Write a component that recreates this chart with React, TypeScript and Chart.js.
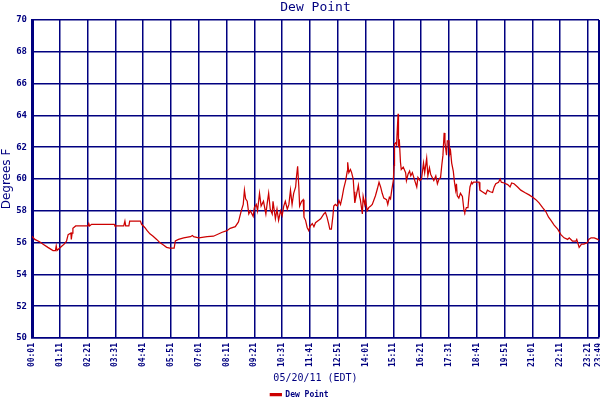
import React, { useEffect, useRef } from 'react';
import { Chart, registerables } from 'chart.js';

Chart.register(...registerables);

// tick labels on the time axis (every 70 minutes, plus the last reading)
const tickLabels = [
  '00:01', '01:11', '02:21', '03:31', '04:41', '05:51', '07:01', '08:11',
  '09:21', '10:31', '11:41', '12:51', '14:01', '15:11', '16:21', '17:31',
  '18:41', '19:51', '21:01', '22:11', '23:21', '23:49',
];

// time of reading, minutes after midnight
const minutes = [
  1, 8, 20, 29, 41, 54, 60, 62, 64, 75, 82, 88, 92, 99, 100, 102, 104, 111,
  142, 144, 146, 151, 208, 210, 232, 235, 237, 245, 247, 274, 277, 285, 291,
  298, 306, 315, 323, 332, 340, 348, 359, 362, 370, 383, 400, 405, 408, 421,
  442, 458, 480, 492, 500, 513, 521, 524, 528, 533, 536, 539, 543, 547, 551,
  558, 561, 566, 569, 574, 578, 584, 590, 593, 597, 601, 606, 608, 614, 618,
  622, 627, 631, 635, 639, 644, 648, 652, 656, 660, 665, 667, 670, 673, 675,
  680, 684, 686, 690, 694, 698, 702, 707, 711, 715, 723, 728, 736, 740, 744,
  748, 751, 755, 759, 761, 765, 770, 774, 778, 782, 786, 791, 795, 796, 799,
  803, 806, 810, 812, 814, 818, 823, 826, 828, 833, 835, 839, 841, 845, 849,
  854, 858, 866, 871, 875, 879, 883, 887, 894, 897, 901, 904, 907, 909, 911,
  913, 914, 918, 919, 923, 924, 926, 929, 931, 936, 942, 944, 948, 952, 955,
  959, 965, 970, 973, 978, 982, 987, 990, 995, 998, 1002, 1005, 1009, 1013,
  1018, 1022, 1026, 1030, 1033, 1036, 1039, 1041, 1045, 1047, 1051, 1053,
  1055, 1058, 1062, 1065, 1068, 1070, 1072, 1076, 1080, 1085, 1089, 1091,
  1095, 1099, 1101, 1104, 1108, 1110, 1113, 1127, 1129, 1135, 1144, 1148,
  1155, 1161, 1165, 1169, 1176, 1180, 1183, 1190, 1199, 1205, 1209, 1215,
  1224, 1232, 1242, 1253, 1262, 1270, 1278, 1287, 1295, 1302, 1308, 1316,
  1325, 1333, 1341, 1350, 1354, 1362, 1371, 1373, 1379, 1385, 1391, 1400,
  1403, 1409, 1417, 1426, 1429,
];

// dew point, degrees F
const dewPoint = [
  56.4, 56.2, 56.05, 55.9, 55.7, 55.5, 55.5, 55.8, 55.5, 55.75, 55.9, 56.1,
  56.5, 56.6, 56.2, 56.6, 56.9, 57.05, 57.05, 57.2, 57.05, 57.15, 57.15, 57.05,
  57.05, 57.35, 57.05, 57.05, 57.35, 57.35, 57.15, 56.95, 56.75, 56.55, 56.4,
  56.2, 56.0, 55.85, 55.7, 55.65, 55.65, 56.1, 56.2, 56.3, 56.37, 56.45, 56.37,
  56.3, 56.37, 56.4, 56.65, 56.75, 56.9, 57.0, 57.3, 57.6, 58.0, 58.4, 59.3,
  58.75, 58.6, 57.8, 58.0, 57.65, 58.2, 58.4, 58.0, 59.1, 58.3, 58.6, 57.8,
  58.4, 59.1, 58.1, 57.8, 58.6, 57.5, 58.1, 57.4, 58.0, 57.7, 58.3, 58.6, 58.1,
  58.4, 59.3, 58.4, 59.1, 59.5, 60.1, 60.8, 59.5, 58.3, 58.6, 58.7, 57.6, 57.4,
  56.95, 56.75, 57.05, 57.2, 57.0, 57.25, 57.4, 57.5, 57.8, 57.9, 57.6, 57.2,
  56.85, 56.85, 57.7, 58.3, 58.4, 58.3, 58.65, 58.4, 58.85, 59.4, 59.9, 60.5,
  61.05, 60.4, 60.6, 60.4, 60.0, 59.2, 58.5, 59.0, 59.6, 58.9, 58.7, 57.8,
  58.9, 58.4, 58.7, 58.0, 58.2, 58.3, 58.4, 58.95, 59.4, 59.8, 59.5, 59.1,
  58.8, 58.7, 58.4, 58.85, 58.75, 59.3, 59.6, 59.9, 60.85, 62.2, 62.3, 62.1,
  64.1, 62.0, 62.5, 61.05, 60.6, 60.75, 60.4, 59.9, 60.3, 60.5, 60.2, 60.4,
  59.9, 59.5, 60.1, 59.9, 60.0, 61.0, 60.4, 61.3, 60.2, 60.7, 60.3, 60.1, 59.9,
  60.2, 59.7, 60.0, 60.1, 60.85, 61.5, 62.9, 62.3, 61.5, 62.4, 62.4, 61.6, 61.8,
  61.0, 60.5, 59.8, 59.3, 59.7, 58.95, 58.8, 59.1, 58.9, 58.0, 57.9, 58.2,
  58.2, 58.8, 59.5, 59.8, 59.7, 59.8, 59.8, 59.3, 59.2, 59.05, 59.3, 59.2,
  59.15, 59.5, 59.7, 59.8, 60.0, 59.8, 59.75, 59.65, 59.5, 59.75, 59.7, 59.5,
  59.3, 59.15, 59.0, 58.85, 58.7, 58.5, 58.2, 57.95, 57.6, 57.4, 57.1, 56.85,
  56.5, 56.3, 56.2, 56.3, 56.1, 56.1, 56.2, 55.7, 55.9, 55.9, 56.0, 56.2, 56.3,
  56.3, 56.2, 56.15,
];

const NAVY = '#000080';
const RED = '#cc0000';

const toMinutes = (label: string) => {
  const [h, m] = label.split(':').map(Number);
  return h * 60 + m;
};
const tickMinutes = tickLabels.map(toMinutes);

const App: React.FC = () => {
  const canvasRef = useRef<HTMLCanvasElement | null>(null);
  const chartRef = useRef<Chart | null>(null);

  useEffect(() => {
    document.body.style.margin = '0';
    if (!canvasRef.current) return;
    const ctx = canvasRef.current.getContext('2d');
    if (!ctx) return;

    if (chartRef.current) chartRef.current.destroy();

    chartRef.current = new Chart(ctx, {
      type: 'line',
      data: {
        datasets: [
          {
            label: 'Dew Point',
            data: minutes.map((m, i) => ({ x: m, y: dewPoint[i] })),
            borderColor: RED,
            backgroundColor: RED,
            borderWidth: 1.25,
            pointRadius: 0,
            tension: 0,
          },
        ],
      },
      options: {
        animation: false,
        responsive: false,
        layout: { padding: { top: 0, left: 0, right: 1, bottom: -8.5 } },
        plugins: {
          title: {
            display: true,
            fullSize: false, // centre over the plot, as in the original
            text: 'Dew Point',
            color: NAVY,
            font: { family: 'DejaVu Sans Mono', size: 13, weight: 'normal' },
            padding: { top: 0, bottom: 4.4 },
          },
          legend: {
            position: 'bottom',
            labels: {
              color: NAVY,
              boxWidth: 11,
              boxHeight: 2,
              padding: 2,
              font: { family: 'DejaVu Sans Mono', size: 8, weight: 'bold' },
            },
          },
          tooltip: { enabled: false },
        },
        scales: {
          x: {
            type: 'linear',
            min: tickMinutes[0],
            max: tickMinutes[tickMinutes.length - 1],
            afterBuildTicks: (scale: any) => {
              scale.ticks = tickMinutes.map((v) => ({ value: v }));
            },
            afterFit: (scale: any) => {
              scale.height = 50.5;
              scale.paddingLeft = 0;
              scale.paddingRight = 0;
            },
            ticks: {
              autoSkip: false,
              minRotation: 90,
              maxRotation: 90,
              padding: 5,
              color: NAVY,
              font: { family: 'DejaVu Sans Mono', size: 8, weight: 'bold' },
              callback: (_v: any, i: number) => tickLabels[i],
            },
            grid: {
              color: NAVY,
              lineWidth: (c: any) => (c.index === tickLabels.length - 1 ? 3 : 1.5),
              drawTicks: false,
            },
            border: { color: NAVY, width: 1.5 },
            title: {
              display: true,
              text: '05/20/11 (EDT)',
              color: NAVY,
              font: { family: 'DejaVu Sans Mono', size: 10 },
              padding: { top: 0, bottom: 4.5 },
            },
          },
          y: {
            min: 50,
            max: 70,
            afterFit: (scale: any) => {
              scale.width = 32;
              scale.paddingTop = 0;
              scale.paddingBottom = 0;
            },
            ticks: {
              stepSize: 2,
              padding: 5,
              color: NAVY,
              font: { family: 'DejaVu Sans Mono', size: 9, weight: 'bold' },
            },
            grid: { color: NAVY, lineWidth: 1.5, drawTicks: false },
            border: { color: NAVY, width: 3 },
            title: {
              display: true,
              text: 'Degrees F',
              color: NAVY,
              font: { family: 'DejaVu Sans', size: 12 },
              padding: { top: 0, bottom: 0 },
            },
          },
        },
      },
    });

    return () => {
      if (chartRef.current) {
        chartRef.current.destroy();
        chartRef.current = null;
      }
    };
  }, []);

  return (
    <div style={{ width: 600, height: 400, background: '#fff' }}>
      <canvas ref={canvasRef} width={600} height={400}></canvas>
    </div>
  );
};

export default App;
